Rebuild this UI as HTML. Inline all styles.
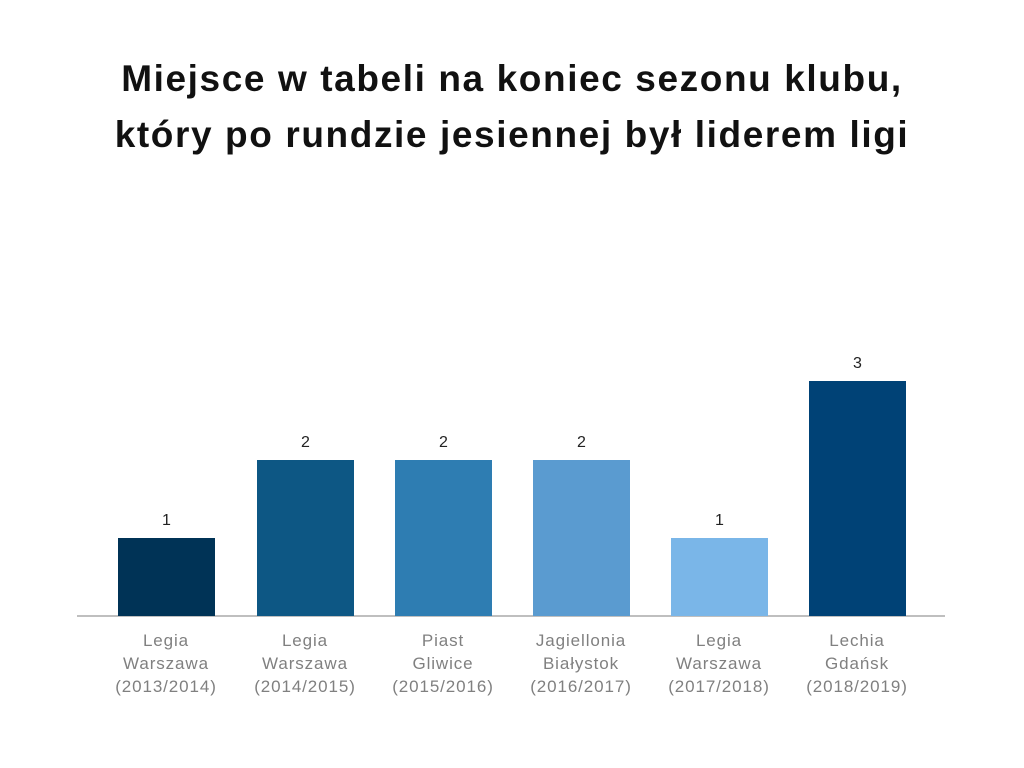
<!DOCTYPE html>
<html><head><meta charset="utf-8"><style>
body{margin:0;width:1024px;height:768px;background:#fff;font-family:"Liberation Sans",sans-serif;position:relative;overflow:hidden}
.t{position:absolute;left:0;width:1024px;text-align:center;font-weight:bold;font-size:37px;letter-spacing:1.6px;color:#111}
.b{position:absolute;width:97px;bottom:152px}
.v{position:absolute;width:97px;text-align:center;font-size:16px;color:#222}
.l{position:absolute;width:138px;text-align:center;font-size:17px;letter-spacing:0.9px;line-height:23px;color:#808080;top:629px}
</style></head><body>
<div class="t" style="top:58px">Miejsce w tabeli na koniec sezonu klubu,</div>
<div class="t" style="top:114px">który po rundzie jesiennej był liderem ligi</div>
<div style="position:absolute;left:77px;width:868px;top:615px;height:2px;background:#bfbfbf"></div>
<div class="b" style="left:118px;height:78px;background:#003356"></div>
<div class="b" style="left:257px;height:156px;background:#0d5784"></div>
<div class="b" style="left:395px;height:156px;background:#2e7db2"></div>
<div class="b" style="left:533px;height:156px;background:#5a9bd0"></div>
<div class="b" style="left:671px;height:78px;background:#7ab6e8"></div>
<div class="b" style="left:809px;height:235px;background:#004276"></div>
<div class="v" style="left:118px;top:512px">1</div>
<div class="v" style="left:257px;top:434px">2</div>
<div class="v" style="left:395px;top:434px">2</div>
<div class="v" style="left:533px;top:434px">2</div>
<div class="v" style="left:671px;top:512px">1</div>
<div class="v" style="left:809px;top:355px">3</div>
<div class="l" style="left:97px">Legia<br>Warszawa<br>(2013/2014)</div>
<div class="l" style="left:236px">Legia<br>Warszawa<br>(2014/2015)</div>
<div class="l" style="left:374px">Piast<br>Gliwice<br>(2015/2016)</div>
<div class="l" style="left:512px">Jagiellonia<br>Białystok<br>(2016/2017)</div>
<div class="l" style="left:650px">Legia<br>Warszawa<br>(2017/2018)</div>
<div class="l" style="left:788px">Lechia<br>Gdańsk<br>(2018/2019)</div>
</body></html>
